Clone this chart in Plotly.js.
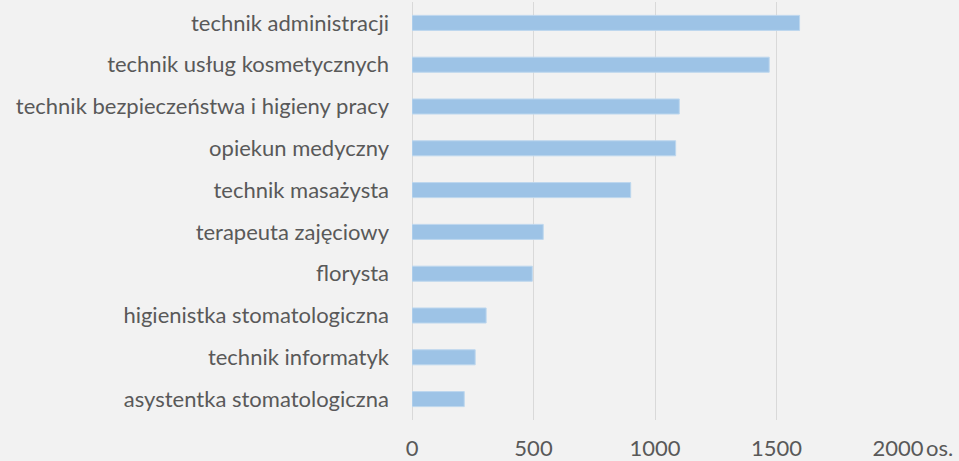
<!DOCTYPE html>
<html>
<head>
<meta charset="utf-8">
<script src="https://cdn.plot.ly/plotly-3.0.1.min.js"></script>
<style>
  html, body { margin: 0; padding: 0; background: #f2f2f2; }
  #chart { width: 959px; height: 461px; }
</style>
</head>
<body>
<div id="chart"></div>
<script>
// zawody i liczba osób
const professions = [
    'technik administracji',
    'technik usług kosmetycznych',
    'technik bezpieczeństwa i higieny pracy',
    'opiekun medyczny',
    'technik masażysta',
    'terapeuta zajęciowy',
    'florysta',
    'higienistka stomatologiczna',
    'technik informatyk',
    'asystentka stomatologiczna'
];
const counts = [1595, 1470, 1100, 1085, 900, 540, 495, 305, 260, 215];

const tickValues = [0, 500, 1000, 1500, 2000];
const tickLabels = ['0', '500', '1000', '1500', '2000'];

const data = [{
    type: 'bar',
    orientation: 'h',
    y: professions,
    x: counts,
    marker: {color: '#9dc3e6', line: {color: '#bdd7ee', width: 1}},
    hoverinfo: 'x+y'
}];

const layout = {
    width: 959,
    height: 461,
    margin: {l: 412, r: 61, t: 2, b: 41},
    paper_bgcolor: '#f2f2f2',
    plot_bgcolor: '#f2f2f2',
    font: {family: 'Lato, "Open Sans", sans-serif', size: 22, color: '#595959'},
    showlegend: false,
    bargap: 0.64,
    xaxis: {
        range: [0, 2000],
        tickvals: tickValues,
        ticktext: tickLabels,
        showgrid: true,
        gridcolor: '#d9d9d9',
        gridwidth: 1,
        zeroline: true,
        zerolinecolor: '#d9d9d9',
        showline: false,
        ticks: '',
        ticklabelstandoff: 13,
        fixedrange: true
    },
    yaxis: {
        autorange: 'reversed',
        showgrid: false,
        zeroline: false,
        showline: false,
        ticks: '',
        ticklabelstandoff: 22,
        fixedrange: true
    },
    annotations: [{
        text: 'os.',
        xref: 'x', yref: 'paper',
        x: 2000, y: 0,
        xanchor: 'left', yanchor: 'middle',
        xshift: 26, yshift: -27,
        showarrow: false,
        font: {size: 22, color: '#595959'}
    }]
};

Plotly.newPlot('chart', data, layout, {displayModeBar: false, staticPlot: true});
</script>
</body>
</html>
